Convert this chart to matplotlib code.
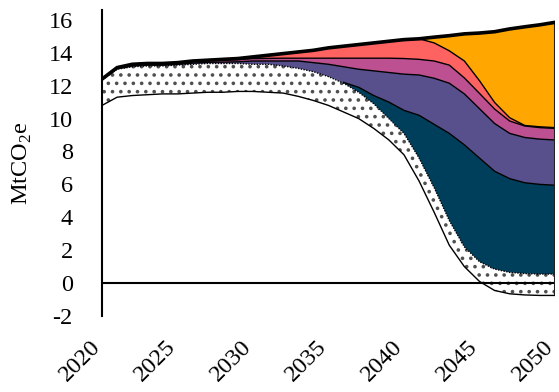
import numpy as np
import matplotlib.pyplot as plt
from matplotlib.transforms import ScaledTranslation

plt.rcParams['font.family'] = ['Liberation Serif', 'DejaVu Serif']
plt.rcParams['font.size'] = 17.5
plt.rcParams['mathtext.fontset'] = 'custom'
plt.rcParams['mathtext.rm'] = 'Liberation Serif'
plt.rcParams['hatch.linewidth'] = 1.4
plt.rcParams['axes.unicode_minus'] = False

years = np.arange(2020, 2051)

# net line (bottom of the stack, white below it)
net = [10.8, 11.3, 11.4, 11.45, 11.5, 11.5, 11.55, 11.6, 11.6, 11.65,
       11.65, 11.6, 11.55, 11.35, 11.1, 10.8, 10.4, 10.0, 9.4, 8.7,
       7.8, 6.2, 4.3, 2.3, 1.0, 0.1, -0.45, -0.65, -0.72, -0.75, -0.75]
# dotted band
stipple = [1.55, 1.7, 1.75, 1.75, 1.7, 1.75, 1.75, 1.75, 1.75, 1.7,
           1.65, 1.7, 1.65, 1.7, 1.75, 1.75, 1.75, 1.6, 1.5, 1.3,
           1.3, 1.4, 1.5, 1.5, 1.2, 1.2, 1.3, 1.3, 1.3, 1.3, 1.3]
teal = [0, 0, 0, 0, 0, 0, 0, 0, 0, 0,
        0, 0, 0, 0, 0, 0, 0.05, 0.3, 0.5, 1.0,
        1.4, 2.6, 3.85, 5.3, 6.2, 6.3, 5.95, 5.7, 5.52, 5.45, 5.4]
purple = [0.02, 0.03, 0.05, 0.05, 0.05, 0.05, 0.07, 0.07, 0.08, 0.1,
          0.2, 0.2, 0.3, 0.45, 0.55, 0.75, 0.95, 1.1, 1.5, 1.8,
          2.2, 2.45, 2.8, 3.05, 3.1, 3.0, 2.9, 2.75, 2.75, 2.75, 2.75]
magenta = [0.03, 0.05, 0.08, 0.08, 0.08, 0.08, 0.1, 0.1, 0.12, 0.13,
           0.15, 0.16, 0.17, 0.17, 0.27, 0.37, 0.52, 0.67, 0.77, 0.87,
           0.95, 0.95, 1.05, 1.1, 0.97, 0.93, 0.88, 0.75, 0.7, 0.7, 0.7]
red = [0, 0.02, 0.02, 0.02, 0.02, 0.02, 0.03, 0.03, 0.05, 0.07,
       0.1, 0.19, 0.28, 0.38, 0.48, 0.63, 0.73, 0.83, 0.93, 1.03,
       1.15, 1.25, 1.1, 0.87, 1.03, 0.77, 0.4, 0.2, 0.03, 0.05, 0.05]
orange = [0, 0, 0, 0, 0, 0, 0, 0, 0, 0,
          0, 0, 0, 0, 0, 0, 0, 0, 0, 0,
          0, 0, 0.35, 0.92, 1.65, 2.9, 4.3, 5.4, 6.0, 6.2, 6.4]

colors = ['#003f5c', '#58508d', '#bc5090', '#ff6361', '#ffa600']
ytick_vals = list(range(-2, 17, 2))
xtick_vals = list(range(2020, 2051, 5))

levels = np.vstack([net, stipple, teal, purple, magenta, red, orange]).cumsum(axis=0)

fig = plt.figure(figsize=(5.59, 3.92), dpi=100)
ax = fig.add_axes([102 / 559, 76 / 392, 453 / 559, 306 / 392])

# dotted band
ax.fill_between(years, levels[0], levels[1], facecolor='white',
                edgecolor='#505050', hatch='..', linewidth=0)
for i, c in enumerate(colors):
    ax.fill_between(years, levels[i + 1], levels[i + 2], facecolor=c,
                    edgecolor='none', linewidth=0)

ax.axhline(0, color='black', lw=1.5, zorder=3)
ax.plot(years, levels[0], color='black', lw=1, zorder=4)
ax.plot(years, levels[1], color='black', lw=1, ls=(0, (1, 1)), zorder=4)
teal_top = np.ma.masked_where(np.array(teal) == 0, levels[2])
ax.plot(years, teal_top, color='black', lw=1, zorder=4)
for k in (3, 4, 5):
    ax.plot(years, levels[k], color='black', lw=1, zorder=4)
ax.plot(years, levels[6], color='black', lw=2.6, zorder=5)
ax.vlines(years[-1], levels[0][-1], levels[6][-1], color='#222222', lw=1.5, zorder=4)

ax.set_xlim(2020, 2050)
ax.set_ylim(-2, 16.6)
ax.set_yticks(ytick_vals)
ax.set_xticks(xtick_vals)
ax.tick_params(axis='y', length=0, pad=21)
ax.tick_params(axis='x', length=0, pad=20)
for lab in ax.get_xticklabels():
    lab.set_rotation(45)
    lab.set_ha('right')
    lab.set_va('center')
    lab.set_rotation_mode('anchor')
    lab.set_transform(lab.get_transform() + ScaledTranslation(-0.05, 0, fig.dpi_scale_trans))

for s in ('top', 'right', 'bottom'):
    ax.spines[s].set_visible(False)
ax.spines['left'].set_linewidth(1.5)

ax.set_ylabel('MtCO$_\\mathrm{2}$e')
ax.yaxis.set_label_coords(-0.151, 0.5)

fig.savefig('out.png', dpi=100)
